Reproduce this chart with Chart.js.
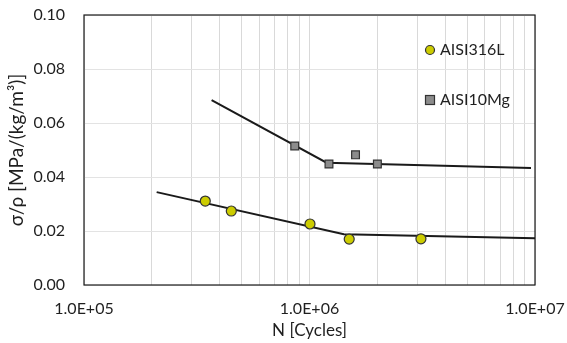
<!DOCTYPE html>
<html>
<head>
<meta charset="utf-8">
<script src="https://cdn.jsdelivr.net/npm/chart.js@4/dist/chart.umd.min.js"></script>
<style>
  html, body { margin: 0; padding: 0; background: #fff; }
  #wrap { width: 567px; height: 343px; }
</style>
</head>
<body>
<div id="wrap"><canvas id="myChart" width="567" height="343"></canvas></div>
<script>
// measured points
const cycles316L = [3.45e5, 4.5e5, 1.005e6, 1.5e6, 3.12e6];
const stress316L = [0.0311, 0.0274, 0.0226, 0.0170, 0.0171];
const cycles10Mg = [8.6e5, 1.22e6, 1.6e6, 2.0e6];
const stress10Mg = [0.0515, 0.0448, 0.0482, 0.0448];

// fitted curves (bilinear)
const fitCycles316L = [2.1e5, 1.42e6, 1.0e7];
const fitStress316L = [0.0344, 0.0188, 0.0173];
const fitCycles10Mg = [3.68e5, 1.19e6, 9.6e6];
const fitStress10Mg = [0.0685, 0.0453, 0.0433];

const xMajor = [1e5, 1e6, 1e7];
const xTickLabels = ['1.0E+05', '1.0E+06', '1.0E+07'];
const yTicks = [0, 0.02, 0.04, 0.06, 0.08, 0.10];

const legendLabels = ['AISI316L', 'AISI10Mg'];

function toPoints(xs, ys) {
  return xs.map(function(x, i) { return { x: x, y: ys[i] }; });
}

const fontFamily = 'Lato, "Open Sans", sans-serif';
const textColor = '#1f1f1f';

const boxPlugin = {
  id: 'boxPlugin',
  afterDraw: function(chart) {
    const c = chart.ctx;
    const a = chart.chartArea;
    c.save();
    c.strokeStyle = '#1a1a1a';
    c.lineWidth = 1.2;
    c.strokeRect(a.left, a.top, a.right - a.left, a.bottom - a.top);

    // legend inside plot area
    c.font = '16px ' + fontFamily;
    c.textBaseline = 'middle';
    const lx = a.left + 346;
    const ly1 = a.top + 35;
    const ly2 = a.top + 85;
    c.beginPath();
    c.arc(lx, ly1, 4.5, 0, Math.PI * 2);
    c.fillStyle = '#cccc00';
    c.fill();
    c.lineWidth = 1.2;
    c.strokeStyle = '#333';
    c.stroke();
    c.fillStyle = '#8c8c8c';
    c.fillRect(lx - 4.5, ly2 - 4.5, 9, 9);
    c.strokeRect(lx - 4.5, ly2 - 4.5, 9, 9);
    c.fillStyle = textColor;
    c.fillText(legendLabels[0], lx + 10, ly1);
    c.fillText(legendLabels[1], lx + 10, ly2);
    c.restore();
  }
};

const ctx = document.querySelector('#myChart').getContext('2d');

// eslint-disable-next-line no-undef
const chart = new Chart(ctx, {
  type: 'scatter',
  data: {
    datasets: [{
      label: legendLabels[0],
      data: toPoints(cycles316L, stress316L),
      pointStyle: 'circle',
      pointRadius: 5,
      backgroundColor: '#cccc00',
      borderColor: '#333',
      borderWidth: 1.2,
      order: 0,
    },
    {
      label: legendLabels[1],
      data: toPoints(cycles10Mg, stress10Mg),
      pointStyle: 'rect',
      pointRadius: 5.5,
      backgroundColor: '#8c8c8c',
      borderColor: '#333',
      borderWidth: 1.2,
      order: 0,
    },
    {
      label: 'fit316L',
      data: toPoints(fitCycles316L, fitStress316L),
      showLine: true,
      pointRadius: 0,
      borderColor: '#1a1a1a',
      borderWidth: 2,
      order: 1,
    },
    {
      label: 'fit10Mg',
      data: toPoints(fitCycles10Mg, fitStress10Mg),
      showLine: true,
      pointRadius: 0,
      borderColor: '#1a1a1a',
      borderWidth: 2,
      order: 1,
    }]
  },
  options: {
    responsive: false,
    animation: false,
    layout: { padding: { left: 0, right: 32, top: 15, bottom: 0 } },
    plugins: {
      legend: { display: false },
      tooltip: { enabled: false },
    },
    scales: {
      x: {
        type: 'logarithmic',
        min: 1e5,
        max: 1e7,
        afterBuildTicks: function(scale) {
          const t = [];
          for (let d = 1e5; d < 1e7; d *= 10) {
            for (let k = 1; k < 10; k++) t.push({ value: d * k });
          }
          t.push({ value: 1e7 });
          scale.ticks = t;
        },
        afterFit: function(scale) {
          scale.height = 58;
          scale.paddingLeft = 0;
          scale.paddingRight = 0;
        },
        ticks: {
          autoSkip: false,
          maxRotation: 0,
          padding: 14,
          color: textColor,
          font: { family: fontFamily, size: 16 },
          callback: function(v) {
            const i = xMajor.indexOf(v);
            return i >= 0 ? xTickLabels[i] : '';
          },
        },
        grid: { color: '#d9d9d9', drawTicks: false, lineWidth: 1 },
        border: { display: false },
        title: {
          display: true,
          text: 'N [Cycles]',
          color: textColor,
          font: { family: fontFamily, size: 17 },
          padding: { top: 0, bottom: 2 },
        },
      },
      y: {
        min: 0,
        max: 0.10,
        afterBuildTicks: function(scale) {
          scale.ticks = yTicks.map(function(v) { return { value: v }; });
        },
        afterFit: function(scale) {
          scale.width = 84;
          scale.paddingTop = 0;
          scale.paddingBottom = 0;
        },
        ticks: {
          padding: 19,
          color: textColor,
          font: { family: fontFamily, size: 16 },
          callback: function(v) { return v.toFixed(2); },
        },
        grid: { color: '#e3e3e3', drawTicks: false, lineWidth: 1 },
        border: { display: false },
        title: {
          display: true,
          text: 'σ/ρ [MPa/(kg/m³)]',
          color: textColor,
          font: { family: fontFamily, size: 19 },
          padding: { top: 5, bottom: 0 },
        },
      }
    }
  },
  plugins: [boxPlugin],
});
</script>
</body>
</html>
